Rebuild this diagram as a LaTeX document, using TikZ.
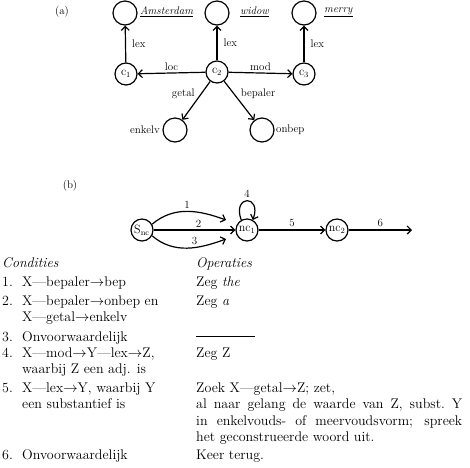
\documentclass[tikz,border=0pt]{standalone}
\usepackage{amsmath,amssymb}
\usepackage{tikz}
\usetikzlibrary{arrows.meta}
\newcommand{\lnk}[1]{\textemdash #1$\rightarrow$}
\tikzset{
  state/.style={draw,circle,line width=1.2pt,minimum size=22pt,inner sep=0pt,
                font=\fontsize{12}{13}\selectfont},
  arc/.style={line width=1.2pt,-{Straight Barb[length=4pt,width=8pt,line width=1.2pt]}},
  lbl/.style={inner sep=0pt,font=\fontsize{11}{13}\selectfont},
  txt/.style={anchor=base west,inner sep=0pt,align=left,
              font=\fontsize{14}{16.5}\selectfont},
}

\begin{document}
\begin{tikzpicture}[x=1pt,y=-1pt]
  \useasboundingbox (0,0) rectangle (470,467);
  % (a)
  \node[lbl] (la) at (62,12) {(a)};
  \node[state,minimum size=24pt] (ams) at (125,13) {};
  \node[state,minimum size=24pt] (wid) at (217,13) {};
  \node[state,minimum size=24pt] (mer) at (304,13) {};
  \node[lbl,anchor=west] (tams) at (140,12) {\underline{\textit{Amsterdam}}};
  \node[lbl,anchor=west] (twid) at (240,12) {\underline{\textit{widow}}};
  \node[lbl,anchor=west] (tmer) at (324,12) {\underline{\textit{merry}}};
  \node[state] (c1) at (126,74) {c$_1$};
  \node[state] (c2) at (217,72) {c$_2$};
  \node[state] (c3) at (304,74) {c$_3$};
  \node[state,minimum size=24pt] (enk) at (175,130) {};
  \node[state,minimum size=24pt] (onb) at (262,130) {};
  \node[lbl,anchor=east] (tenk) at (160,130) {enkelv};
  \node[lbl,anchor=west] (tonb) at (276,130) {onbep};
  \draw[arc] (c1) -- node[lbl,right=6pt] {lex} (ams);
  \draw[arc] (c2) -- node[lbl,right=6pt] {lex} (wid);
  \draw[arc] (c3) -- node[lbl,right=6pt] {lex} (mer);
  \draw[arc] (c2) -- node[lbl,above=2pt] {loc} (c1);
  \draw[arc] (c2) -- node[lbl,above=2pt] {mod} (c3);
  \draw[arc] (c2) -- node[lbl,above left=1pt] {getal} (enk);
  \draw[arc] (c2) -- node[lbl,above right=1pt] {bepaler} (onb);

  % (b)
  \node[lbl] (lb) at (70,186) {(b)};
  \node[state] (snc) at (142,230) {S$_{\text{nc}}$};
  \node[state] (nc1) at (247,230) {nc$_1$};
  \node[state] (nc2) at (337,230) {nc$_2$};
  \coordinate (e1) at (226,220);
  \coordinate (e3) at (226,239);
  \coordinate (e6) at (412,230);
  \draw[arc] (snc.30) to[out=40,in=160] node[lbl,above=2pt] {1} (e1);
  \draw[arc] (snc) -- node[lbl,above=2pt,pos=0.55] {2} (nc1);
  \draw[arc] (snc.-30) to[out=-40,in=200] node[lbl,above=2pt,pos=0.6] {3} (e3);
  \draw[arc] (nc1.120) to[out=110,in=70,looseness=6] node[lbl,above=3pt] {4} (nc1.60);
  \draw[arc] (nc1) -- node[lbl,above=3pt] {5} (nc2);
  \draw[arc] (nc2) -- node[lbl,above=3pt] {6} (e6);

  % table
  \node[txt] (hc) at (2,267) {\textit{Condities}};
  \node[txt] (ho) at (196,267) {\textit{Operaties}};
  \node[txt] (n1) at (2,286) {1.};
  \node[txt] (k1) at (22,286) {X\lnk{bepaler}bep};
  \node[txt] (o1) at (196,286) {Zeg \textit{the}};
  \node[txt] (n2) at (2,305) {2.};
  \node[txt] (k2) at (22,321.5) {X\lnk{bepaler}onbep en\\X\lnk{getal}enkelv};
  \node[txt] (o2) at (196,305) {Zeg \textit{a}};
  \node[txt] (n3) at (2,341) {3.};
  \node[txt] (k3) at (22,341) {Onvoorwaardelijk};
  \node[txt] (o3) at (196,341) {\rule[4pt]{59pt}{0.8pt}};
  \node[txt] (n4) at (2,357) {4.};
  \node[txt] (k4) at (22,373.5) {X\lnk{mod}Y\lnk{lex}Z,\\waarbij Z een adj. is};
  \node[txt] (o4) at (196,357) {Zeg Z};
  \node[txt] (n5) at (2,392) {5.};
  \node[txt] (k5) at (22,408.5) {X\lnk{lex}Y, waarbij Y\\een substantief is};
  \node[txt,text width=266pt,align=justify] (o5) at (196,392)
    {Zoek X\lnk{getal}Z; zet,\newline al naar gelang de waarde van Z, subst.~Y\linebreak
     in enkelvouds- of meervoudsvorm; spreek\linebreak het geconstrueerde woord uit.};
  \node[txt] (n6) at (2,459) {6.};
  \node[txt] (k6) at (22,459) {Onvoorwaardelijk};
  \node[txt] (o6) at (196,459) {Keer terug.};
\end{tikzpicture}
\end{document}
